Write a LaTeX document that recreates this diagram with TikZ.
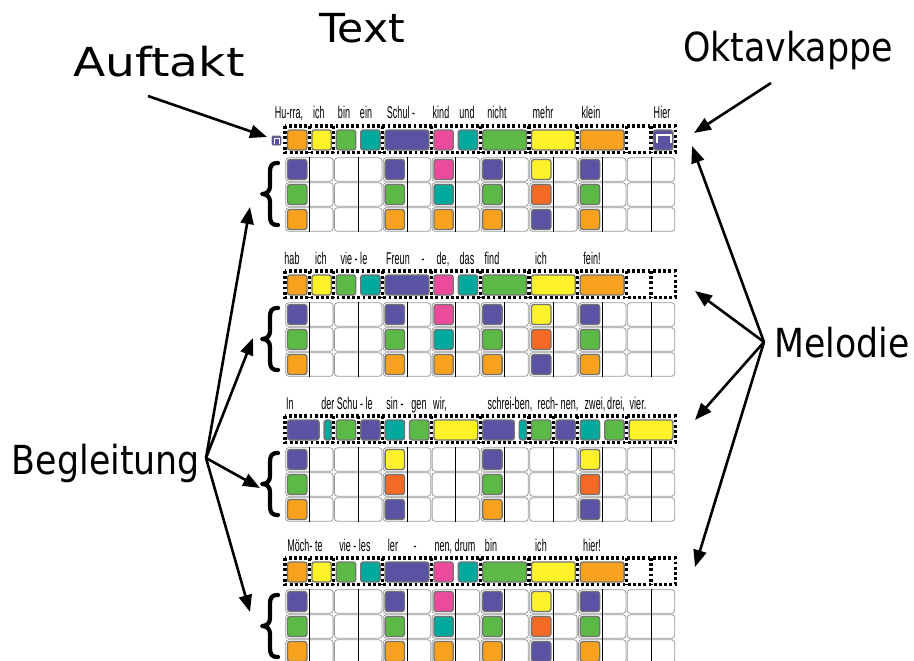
\documentclass[tikz,border=0pt]{standalone}
\usepackage{fontspec}
\usepackage{graphicx}
\setmainfont{DejaVu Sans}
\newfontfamily\lyrfont[FakeStretch=0.53]{Liberation Sans}
\usetikzlibrary{arrows.meta}
\definecolor{cOr}{HTML}{F7A11E}
\definecolor{cYe}{HTML}{FFF22A}
\definecolor{cGr}{HTML}{5DB946}
\definecolor{cTe}{HTML}{00A99E}
\definecolor{cPu}{HTML}{5A53A3}
\definecolor{cPi}{HTML}{EC4A9A}
\definecolor{cRo}{HTML}{F26A24}
\tikzset{
 big/.style={font=\fontsize{40}{46}\selectfont, inner sep=0pt, anchor=base},
 lyr/.style={font=\lyrfont\fontsize{17}{20}\selectfont, text=black, inner sep=0pt, anchor=base},
 cell/.style={draw=black!40, line width=0.8pt, rounded corners=3pt},
 beat/.style={draw=black, line width=1pt},
 note/.style={draw=black!55, line width=1.3pt, rounded corners=2.5pt},
 dotb/.style={draw=black, line width=3.2pt, dash pattern=on 2.8pt off 2.4pt},
 arr/.style={line width=2.6pt, -{Triangle[length=17pt,width=13pt]}},
 brace/.style={draw=black, line width=4.2pt, line cap=round, line join=round},
 oct/.style={draw=white, line width=1.2pt},
}
\newcommand\lbl[2]{\resizebox{#1}{\height}{#2}}
\newcommand\gridsys[1]{%
 \foreach \p in {0,...,7}{%
   \foreach \r in {0,1,2}{%
     \draw[cell] ({285+2*\p*24.4+0.7},{#1+\r*25+0.7}) rectangle ({285+(2*\p+2)*24.4-0.7},{#1+(\r+1)*25-0.7});
   }
   \draw[beat] ({285+(2*\p+1)*24.4},{#1}) -- ({285+(2*\p+1)*24.4},{#1+75});
 }}
\newcommand\acc[4]{\path[note,fill=#4] ({285+2*(#2)*24.4+2.5},{#1+(#3)*25+2.5}) rectangle ++(19.4,20);}
\newcommand\mel[4]{\path[note,fill=#4] ({285+(#2)*24.4+2.5},{#1-27}) rectangle ({285+(#3)*24.4-2.5},{#1-7});}
\newcommand\dotrow[2]{%
 \draw[dotb] (285,{#1-31}) rectangle (675.2,{#1-4.5});
 \foreach \c in {#2}{\draw[dotb] ({285+\c*24.4},{#1-31}) -- ({285+\c*24.4},{#1-4.5});}}
\newcommand\accA[1]{%
 \foreach \p in {0,2,4,6}{\acc{#1}{\p}{0}{cPu}\acc{#1}{\p}{1}{cGr}\acc{#1}{\p}{2}{cOr}}
 \acc{#1}{3}{0}{cPi}\acc{#1}{3}{1}{cTe}\acc{#1}{3}{2}{cOr}
 \acc{#1}{5}{0}{cYe}\acc{#1}{5}{1}{cRo}\acc{#1}{5}{2}{cPu}}
\newcommand\melA[1]{%
 \mel{#1}{0}{1}{cOr}\mel{#1}{1}{2}{cYe}\mel{#1}{2}{3}{cGr}\mel{#1}{3}{4}{cTe}
 \mel{#1}{4}{6}{cPu}\mel{#1}{6}{7}{cPi}\mel{#1}{7}{8}{cTe}
 \mel{#1}{8}{10}{cGr}\mel{#1}{10}{12}{cYe}\mel{#1}{12}{14}{cOr}}
\newcommand\brc[1]{%
 \draw[brace] (278,{#1+6}) .. controls (271,{#1+6}) and (270,{#1+9}) .. (270,{#1+16}) -- (270,{#1+29})
  .. controls (270,{#1+34}) and (267,{#1+37}) .. (262,{#1+37})
  .. controls (267,{#1+37}) and (270,{#1+40}) .. (270,{#1+45}) -- (270,{#1+58})
  .. controls (270,{#1+65}) and (271,{#1+68}) .. (278,{#1+68});}
\begin{document}
\begin{tikzpicture}[x=1pt,y=-1pt]
\fill[white] (0,0) rectangle (914,661);
\path[use as bounding box] (0,0) rectangle (914,661);

% grids
\gridsys{157}\gridsys{302}\gridsys{447}\gridsys{589}
% accompaniment
\accA{157}\accA{302}\accA{589}
\foreach \p in {0,4}{\acc{447}{\p}{0}{cPu}\acc{447}{\p}{1}{cGr}\acc{447}{\p}{2}{cOr}}
\foreach \p in {2,6}{\acc{447}{\p}{0}{cYe}\acc{447}{\p}{1}{cRo}\acc{447}{\p}{2}{cPu}}

% melody dotted frames
\dotrow{157}{1,2,4,6,8,10,12,14,15}
\dotrow{302}{1,2,4,6,8,10,12,14,15}
\dotrow{447}{2,3,4,6,8,10,11,12,14}
\dotrow{589}{1,2,4,6,8,10,12,14,15}
% melody notes
\melA{157}\melA{302}\melA{589}
\mel{157}{15}{16}{cPu}
\draw[oct] (657,143)--(657,135)--(671,135)--(671,143);
\path[note,line width=0.8pt,fill=cPu,rounded corners=1pt] (272,136) rectangle (281,145);
\draw[oct,line width=0.8pt] (274,143.5)--(274,138.5)--(279,138.5)--(279,143.5);
\foreach \o in {0,8}{%
 \mel{447}{\o+0}{\o+1.5}{cPu}\mel{447}{\o+1.5}{\o+2}{cTe}\mel{447}{\o+2}{\o+3}{cGr}
 \mel{447}{\o+3}{\o+4}{cPu}\mel{447}{\o+4}{\o+5}{cTe}\mel{447}{\o+5}{\o+6}{cGr}
 \mel{447}{\o+6}{\o+8}{cYe}}

% braces
\brc{157}\brc{302}\brc{447}\brc{589}

% lyrics system 1
\node[lyr] (a1) at (289,119) {Hu-rra,};
\node[lyr] (a2) at (319,119) {ich};
\node[lyr] (a3) at (344,119) {bin};
\node[lyr] (a4) at (366,119) {ein};
\node[lyr] (a5) at (401,119) {Schul -};
\node[lyr] (a6) at (441,119) {kind};
\node[lyr] (a7) at (467,119) {und};
\node[lyr] (a8) at (497,119) {nicht};
\node[lyr] (a9) at (543,119) {mehr};
\node[lyr] (a10) at (591,119) {klein};
\node[lyr] (a11) at (662,119) {Hier};
% system 2
\node[lyr] (b1) at (292,264) {hab};
\node[lyr] (b2) at (321,264) {ich};
\node[lyr] (b3) at (354,264) {vie - le};
\node[lyr] (b4) at (398,264) {Freun};
\node[lyr] (b5) at (423,264) {-};
\node[lyr] (b6) at (443,264) {de,};
\node[lyr] (b7) at (467,264) {das};
\node[lyr] (b8) at (492,264) {find};
\node[lyr] (b9) at (541,264) {ich};
\node[lyr] (b10) at (592,264) {fein!};
% system 3
\node[lyr] (c1) at (290,409) {In};
\node[lyr] (c2) at (347,409) {der Schu - le};
\node[lyr] (c3) at (395,409) {sin -};
\node[lyr] (c4) at (419,409) {gen};
\node[lyr] (c5) at (440,409) {wir,};
\node[lyr] (c6) at (510,409) {schrei-ben,};
\node[lyr] (c7) at (558,409) {rech- nen,};
\node[lyr] (c8) at (595,409) {zwei,};
\node[lyr] (c9) at (616,409) {drei,};
\node[lyr] (c10) at (638,409) {vier.};
% system 4
\node[lyr] (d1) at (305,551) {Möch- te};
\node[lyr] (d2) at (355,551) {vie - les};
\node[lyr] (d3) at (393,551) {ler};
\node[lyr] (d4) at (415,551) {-};
\node[lyr] (d5) at (455,551) {nen, drum};
\node[lyr] (d6) at (491,551) {bin};
\node[lyr] (d7) at (541,551) {ich};
\node[lyr] (d8) at (592,551) {hier!};

% labels
\node[big] (ttext) at (362,43) {\lbl{86pt}{Text}};
\node[big] (tauf) at (159,77) {\lbl{171pt}{Auftakt}};
\node[big] (tokt) at (788,62) {\lbl{210pt}{Oktavkappe}};
\node[big] (tmel) at (842,357) {\lbl{135pt}{Melodie}};
\node[big] (tbeg) at (106,474) {\lbl{188pt}{Begleitung}};

% arrow ends
\coordinate (as) at (148,96);  \coordinate (at) at (267,137);
\coordinate (os) at (771,83);  \coordinate (ot) at (694,133);
\coordinate (ms) at (764,342);
\coordinate (m1) at (692,146); \coordinate (m2) at (695,291);
\coordinate (m3) at (695,420); \coordinate (m4) at (695,567);
\coordinate (bs) at (206,458);
\coordinate (b1t) at (250,207); \coordinate (b2t) at (253,338);
\coordinate (b3t) at (260,488); \coordinate (b4t) at (250,612);

\draw[arr] (as) -- (at);
\draw[arr] (os) -- (ot);
\foreach \t in {m1,m2,m3,m4}{\draw[arr] (ms) -- (\t);}
\foreach \t in {b1t,b2t,b3t,b4t}{\draw[arr] (bs) -- (\t);}
\end{tikzpicture}
\end{document}
